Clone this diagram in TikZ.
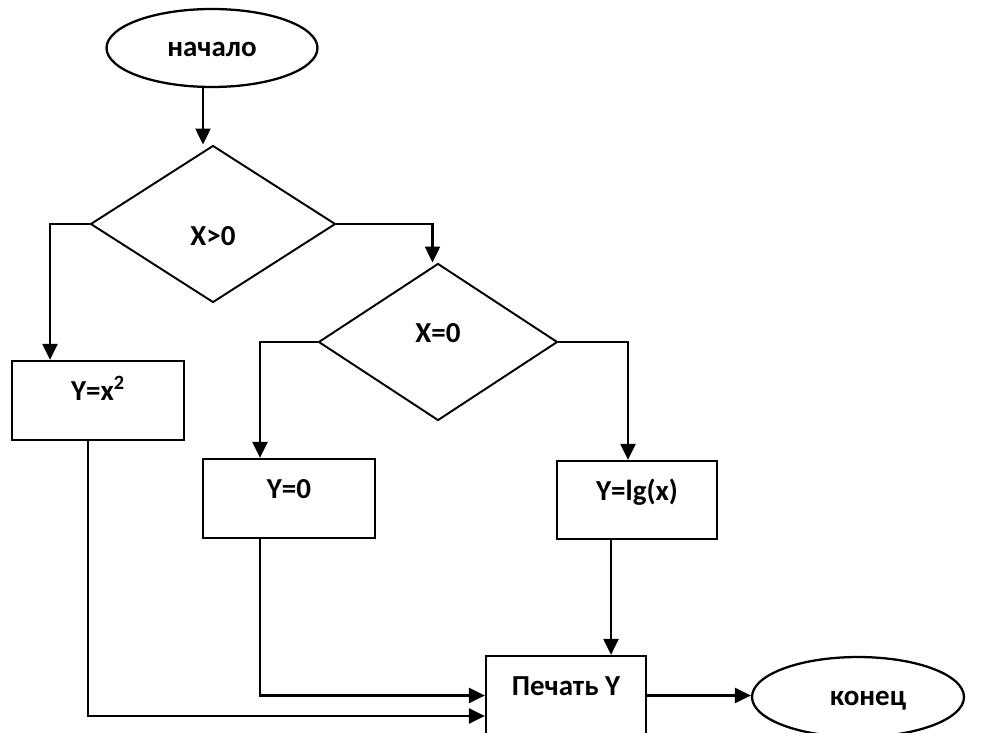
\documentclass[tikz,border=0pt]{standalone}
\usepackage{fontspec}
\setmainfont{Carlito}
\usetikzlibrary{shapes.geometric}
\usetikzlibrary{arrows.meta}

\begin{document}
\begin{tikzpicture}[x=0.02cm,y=-0.02cm,line width=1.3pt,
  every node/.style={font=\fontsize{16.5}{20}\selectfont\bfseries,inner sep=0pt},
  term/.style={draw,ellipse,minimum width=4.22cm,minimum height=1.56cm,text height=0.34cm,text depth=0pt},
  cond/.style={draw,line width=1.1pt,diamond,minimum width=4.9cm,minimum height=3.14cm},
  proc/.style={draw,rectangle,minimum width=3.44cm,minimum height=1.58cm,text height=0pt,text depth=0pt},
  flow/.style={-{Triangle[length=0.32cm,width=0.3cm]}}]
\useasboundingbox (0,0) rectangle (1000,733);

\node[term] (start) at (212,48) {начало};
\node[cond,text height=0.86cm,text depth=0pt] (d1) at (213,224) {X>0};
\node[cond,minimum width=4.78cm,text height=0pt,text depth=0pt] (d2) at (438,342) {X=0};
\node[proc] (b1) at (98,400.5) {Y=x\textsuperscript{2}};
\node[proc] (b2) at (289,498.5) {Y=0};
\node[proc,minimum width=3.2cm,minimum height=1.56cm] (b3) at (637,500) {Y=lg(x)};
\node[proc,minimum width=3.2cm] (print) at (566,695.5) {Печать Y};
\node[term,minimum width=4.24cm,minimum height=1.6cm] (kon) at (858,697) {\hspace{0.4cm}конец};

\draw[flow] ([xshift=-0.18cm]start.south) -- ([xshift=-0.18cm]start.south |- d1.north);
\draw[flow] (d1.west) -| ([xshift=-0.96cm]b1.north);
\draw[flow] (d1.east) -| ([xshift=-0.11cm]d2.north);
\draw[flow] (d2.west) -| ([xshift=-0.58cm]b2.north);
\draw[flow] (d2.east) -| ([xshift=-0.18cm]b3.north);
\draw[flow] ([xshift=-0.52cm]b3.south) -- ([xshift=-0.52cm]b3.south |- print.north);
\draw[flow] ([xshift=-0.58cm]b2.south) |- (print.west);
\draw[flow] ([xshift=-0.2cm]b1.south) |- ([yshift=-0.41cm]print.west);
\draw[flow] (print.east) -- (print.east -| kon.west);

\end{tikzpicture}
\end{document}
